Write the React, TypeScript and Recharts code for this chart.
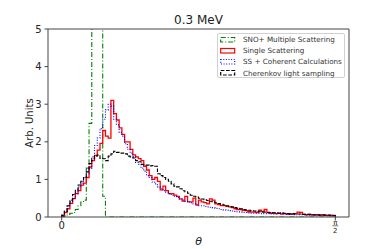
import { LineChart, Line, XAxis, YAxis, Legend } from "recharts"

// bins run from 0 to pi/2
const THETA_MAX = Math.PI / 2
const BIN_COUNT = 100

const SERIES_NAMES = [
  "SNO+ Multiple Scattering",
  "Single Scattering",
  "SS + Coherent Calculations",
  "Cherenkov light sampling",
]

const SNO_MS = [
  0.01, 0.03, 0.07, 0.1, 0.12, 0.2, 0.3, 0.4, 0.45, 1.3,
  2.49, 8.5, 12.0, 11.0, 7.5, 0.55, 0, 0, 0, 0,
  0, 0, 0, 0, 0, 0, 0, 0, 0, 0,
  0, 0, 0, 0, 0, 0, 0, 0, 0, 0,
  0, 0, 0, 0, 0, 0, 0, 0, 0, 0,
  0, 0, 0, 0, 0, 0, 0, 0, 0, 0,
  0, 0, 0, 0, 0, 0, 0, 0, 0, 0,
  0, 0, 0, 0, 0, 0, 0, 0, 0, 0,
  0, 0, 0, 0, 0, 0, 0, 0, 0, 0,
  0, 0, 0, 0, 0, 0, 0, 0, 0, 0,
]

const SINGLE = [
  0.03, 0.12, 0.22, 0.36, 0.49, 0.62, 0.7, 0.85, 0.9, 1.05,
  1.33, 1.5, 1.64, 1.78, 1.96, 2.3, 2.15, 2.1, 3.1, 2.75,
  2.58, 2.37, 2.2, 2.0, 2.0, 1.8, 1.65, 1.6, 1.55, 1.5,
  1.35, 1.25, 1.1, 1.0, 1.05, 0.95, 0.72, 0.82, 0.7, 0.62,
  0.62, 0.58, 0.55, 0.48, 0.42, 0.55, 0.4, 0.4, 0.5, 0.32,
  0.45, 0.4, 0.38, 0.35, 0.48, 0.45, 0.35, 0.33, 0.3, 0.3,
  0.28, 0.27, 0.25, 0.22, 0.2, 0.2, 0.18, 0.17, 0.14, 0.13,
  0.13, 0.12, 0.18, 0.15, 0.2, 0.12, 0.1, 0.11, 0.09, 0.1,
  0.08, 0.09, 0.08, 0.07, 0.08, 0.09, 0.13, 0.12, 0.07, 0.06,
  0.07, 0.06, 0.05, 0.06, 0.05, 0.06, 0.05, 0.04, 0.05, 0.04,
]

const SS_COHERENT = [
  0.03, 0.15, 0.3, 0.4, 0.5, 0.62, 0.8, 0.9, 1.05, 1.15,
  1.3, 1.6, 1.9, 2.1, 2.35, 2.6, 2.85, 3.0, 2.95, 2.6,
  2.45, 2.25, 2.15, 1.95, 1.8, 1.7, 1.6, 1.45, 1.4, 1.3,
  1.22, 1.1, 1.05, 0.93, 0.88, 0.8, 0.75, 0.7, 0.66, 0.62,
  0.58, 0.55, 0.52, 0.48, 0.45, 0.42, 0.4, 0.38, 0.35, 0.32,
  0.3, 0.3, 0.28, 0.27, 0.26, 0.25, 0.23, 0.22, 0.2, 0.19,
  0.18, 0.17, 0.16, 0.15, 0.14, 0.13, 0.12, 0.12, 0.11, 0.1,
  0.1, 0.1, 0.1, 0.09, 0.09, 0.09, 0.08, 0.08, 0.08, 0.1,
  0.11, 0.09, 0.07, 0.07, 0.07, 0.06, 0.06, 0.06, 0.06, 0.05,
  0.05, 0.05, 0.05, 0.05, 0.04, 0.04, 0.04, 0.04, 0.04, 0.04,
]

const CHERENKOV = [
  0.05, 0.15, 0.3, 0.45, 0.6, 0.72, 0.85, 0.95, 1.05, 1.2,
  1.42, 1.55, 1.62, 1.65, 1.56, 1.55, 1.5, 1.62, 1.68, 1.75,
  1.72, 1.7, 1.7, 1.68, 1.62, 1.6, 1.57, 1.5, 1.47, 1.4,
  1.38, 1.38, 1.36, 1.37, 1.35, 1.15, 1.1, 1.05, 1.0, 0.95,
  0.88, 0.82, 0.8, 0.75, 0.7, 0.67, 0.63, 0.58, 0.55, 0.53,
  0.5, 0.48, 0.46, 0.44, 0.42, 0.4, 0.38, 0.36, 0.34, 0.32,
  0.3, 0.28, 0.27, 0.25, 0.23, 0.22, 0.2, 0.19, 0.18, 0.17,
  0.16, 0.15, 0.14, 0.13, 0.13, 0.12, 0.12, 0.11, 0.11, 0.1,
  0.1, 0.1, 0.09, 0.09, 0.09, 0.08, 0.08, 0.08, 0.07, 0.07,
  0.07, 0.06, 0.06, 0.06, 0.05, 0.05, 0.05, 0.05, 0.04, 0.04,
]

const Y_TICKS = [0, 1, 2, 3, 4, 5]
const X_TICKS = [0, THETA_MAX]

const COLORS = ["#008000", "#ff0000", "#0000ff", "#000000"]
const DASHES = ["5 2 1 2", undefined, "1 1.6", "3.7 1.6"]

const FONT = "DejaVu Sans, sans-serif"
const AXIS = "#444"

// step outline: drop to 0 at both ends like a matplotlib step histogram
const rows = [
  { x: 0, ms: 0, ss: 0, coh: 0, ch: 0 },
  ...SINGLE.map((_, i) => ({
    x: (i * THETA_MAX) / BIN_COUNT,
    ms: SNO_MS[i],
    ss: SINGLE[i],
    coh: SS_COHERENT[i],
    ch: CHERENKOV[i],
  })),
  { x: THETA_MAX, ms: 0, ss: 0, coh: 0, ch: 0 },
]

function ThetaTick(props: any) {
  const { x, y, payload } = props
  if (payload.value === 0) {
    return (
      <text x={x} y={y} dy="0.71em" textAnchor="middle" fontSize={10} fill="#222" fontFamily={FONT}>
        0
      </text>
    )
  }
  return (
    <g fontFamily={FONT} fill="#222">
      <text x={x} y={y + 3} textAnchor="middle" fontSize={7}>π</text>
      <line x1={x - 3} x2={x + 3} y1={y + 4.3} y2={y + 4.3} stroke="#222" strokeWidth={0.6} />
      <text x={x} y={y + 11} textAnchor="middle" fontSize={7}>2</text>
    </g>
  )
}

function LegendBox() {
  return (
    <div
      style={{
        border: "1px solid #d0d0d0",
        borderRadius: 2,
        background: "rgba(255,255,255,0.8)",
        width: 128,
        height: 45,
        boxSizing: "border-box",
        fontFamily: FONT,
        fontSize: 7.2,
        color: "#333",
      }}
    >
      {SERIES_NAMES.map((name, i) => (
        <div key={name} style={{ display: "flex", alignItems: "center", height: 11.2, whiteSpace: "nowrap" }}>
          <svg width={24} height={8} style={{ marginLeft: 2 }}>
            <rect
              x={0.7}
              y={1.5}
              width={14}
              height={4.5}
              fill="none"
              stroke={COLORS[i]}
              strokeWidth={1.2}
              strokeDasharray={DASHES[i]}
            />
          </svg>
          <span style={{ marginLeft: -1 }}>{name}</span>
        </div>
      ))}
    </div>
  )
}

export default function App() {
  return (
    <div style={{ position: "absolute", left: 0, top: 0, width: 389, height: 249, background: "#fff" }}>
      <LineChart width={389} height={249} data={rows} margin={{ top: 28, right: 39, bottom: 2, left: 8 }}>
        <XAxis
          dataKey="x"
          type="number"
          domain={[-0.0785, 1.6493]}
          allowDataOverflow
          ticks={X_TICKS}
          interval={0}
          tick={<ThetaTick />}
          tickSize={3.5}
          tickMargin={1}
          height={30}
          stroke={AXIS}
          label={{ value: "θ", position: "insideBottom", offset: 2, fontSize: 11, fontStyle: "italic", fill: "#222", fontFamily: FONT }}
        />
        <XAxis
          xAxisId="top"
          orientation="top"
          dataKey="x"
          type="number"
          domain={[-0.0785, 1.6493]}
          allowDataOverflow
          tick={false}
          tickLine={false}
          height={1}
          stroke={AXIS}
          label={{ value: "0.3 MeV", position: "top", offset: 4, fontSize: 12, fill: "#222", fontFamily: FONT }}
        />
        <YAxis
          domain={[0, 5]}
          allowDataOverflow
          ticks={Y_TICKS}
          tickSize={3.5}
          tickMargin={3}
          width={40}
          stroke={AXIS}
          tick={{ fontSize: 10, fill: "#222", fontFamily: FONT }}
          label={{ value: "Arb. Units", angle: -90, position: "center", dx: 1, fontSize: 10, fill: "#222", fontFamily: FONT }}
        />
        <YAxis yAxisId="right" orientation="right" domain={[0, 5]} tick={false} tickLine={false} width={1} stroke={AXIS} />
        <Legend
          content={<LegendBox />}
          layout="horizontal"
          verticalAlign="middle"
          align="center"
          wrapperStyle={{ position: "absolute", left: 217, top: 33, width: 130 }}
        />
        <Line type="stepAfter" dataKey="ms" name={SERIES_NAMES[0]} stroke={COLORS[0]} strokeWidth={1.1} strokeDasharray={DASHES[0]} dot={false} activeDot={false} isAnimationActive={false} />
        <Line type="stepAfter" dataKey="ss" name={SERIES_NAMES[1]} stroke={COLORS[1]} strokeWidth={1.3} dot={false} activeDot={false} isAnimationActive={false} />
        <Line type="stepAfter" dataKey="coh" name={SERIES_NAMES[2]} stroke={COLORS[2]} strokeWidth={1.1} strokeDasharray={DASHES[2]} dot={false} activeDot={false} isAnimationActive={false} />
        <Line type="stepAfter" dataKey="ch" name={SERIES_NAMES[3]} stroke={COLORS[3]} strokeWidth={1.1} strokeDasharray={DASHES[3]} dot={false} activeDot={false} isAnimationActive={false} />
      </LineChart>
    </div>
  )
}
